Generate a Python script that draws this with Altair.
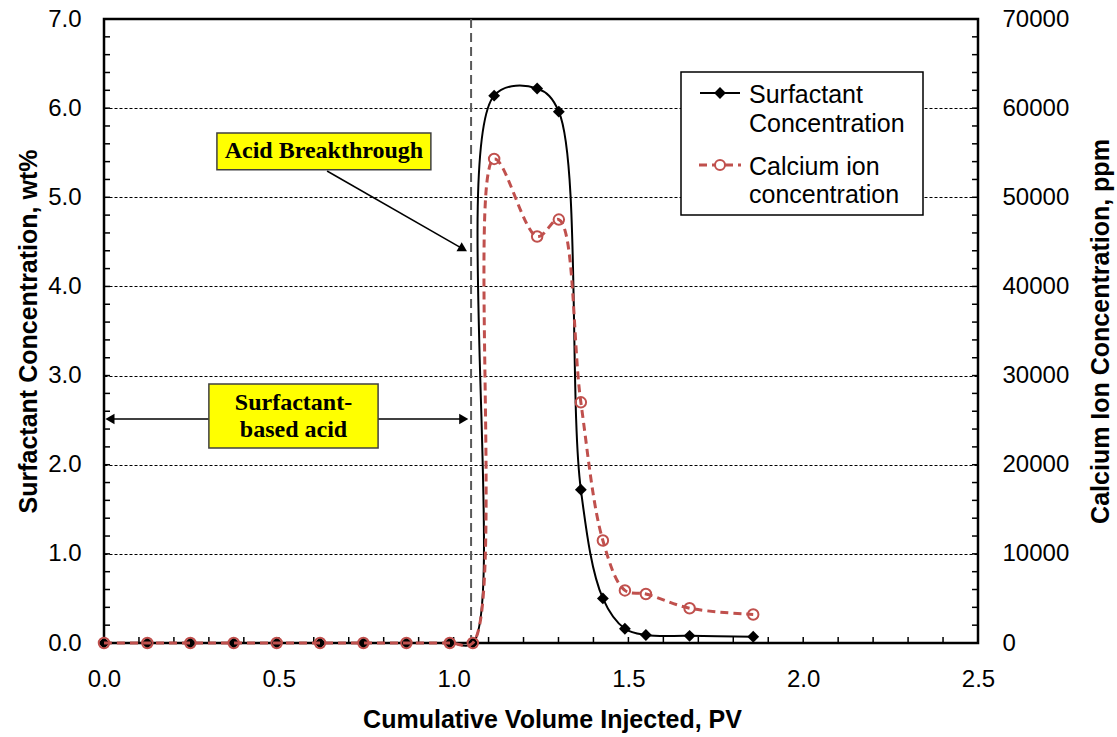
import altair as alt
import pandas as pd

# ---------------- data ----------------
pv = [0.0, 0.124, 0.247, 0.371, 0.494, 0.618, 0.742, 0.865, 0.989, 1.055,
      1.116, 1.239, 1.301, 1.364, 1.427, 1.490, 1.550, 1.675, 1.857]
surfactant_wt = [0.0, 0.0, 0.0, 0.0, 0.0, 0.0, 0.0, 0.0, 0.0, 0.0,
                 6.14, 6.22, 5.96, 1.72, 0.50, 0.16, 0.09, 0.08, 0.07]
calcium_ppm = [0, 0, 0, 0, 0, 0, 0, 0, 0, 0,
               54300, 45600, 47500, 27000, 11500, 5900, 5500, 3900, 3200]

x_ticks = [0.0, 0.5, 1.0, 1.5, 2.0, 2.5]
y_left_ticks = [0.0, 1.0, 2.0, 3.0, 4.0, 5.0, 6.0, 7.0]
y_right_ticks = [0, 10000, 20000, 30000, 40000, 50000, 60000, 70000]
x_minor = [round(i * 0.1, 2) for i in range(26)]
y_minor = [round(i * 0.2, 2) for i in range(36)]

breakthrough_pv = [1.05]
legend_labels = ["Surfactant", "Concentration", "Calcium ion", "concentration"]

W, H = 874, 624
RED = "#C0504D"
SANS = "Liberation Sans"
SERIF = "Liberation Serif"

df = pd.DataFrame({"pv": pv, "surf": surfactant_wt, "ca": calcium_ppm})

xs = alt.Scale(domain=[0, 2.5], nice=False, zero=False)
ysl = alt.Scale(domain=[0, 7], nice=False)
ysr = alt.Scale(domain=[0, 70000], nice=False)

x_axis = alt.Axis(values=x_ticks, format=".1f", ticks=False, domain=False, grid=False,
                  labelFlush=False, labelOverlap=False,
                  labelFontSize=24, labelFont=SANS, labelColor="black", labelPadding=24,
                  title="Cumulative Volume Injected, PV", titleFont=SANS, titleFontSize=25,
                  titleFontWeight="bold", titleColor="black", titleX=448, titleY=76,
                  titleBaseline="middle")
yl_axis = alt.Axis(values=y_left_ticks, format=".1f", ticks=False, domain=False, grid=True,
                   labelFlush=False, labelOverlap=False,
                   gridDash=[3, 2], gridColor="black", gridWidth=1, gridOpacity=1,
                   labelFontSize=24, labelFont=SANS, labelColor="black", labelPadding=23,
                   title="Surfactant Concentration, wt%", titleFont=SANS, titleFontSize=25,
                   titleFontWeight="bold", titleColor="black", titleAngle=270,
                   titleX=-76, titleY=H / 2, titleBaseline="middle", titleAlign="center")
yr_axis = alt.Axis(values=y_right_ticks, format="d", ticks=False, domain=False, grid=False,
                   labelFlush=False, labelOverlap=False,
                   orient="right", labelFontSize=24, labelFont=SANS, labelColor="black",
                   labelPadding=24,
                   title="Calcium Ion Concentration, ppm", titleFont=SANS, titleFontSize=25,
                   titleFontWeight="bold", titleColor="black", titleAngle=270,
                   titleX=122, titleY=H / 2, titleBaseline="middle", titleAlign="center")

base = alt.Chart(df)

# surfactant line + points (left axis)
surf_line = base.mark_line(color="black", strokeWidth=2, interpolate="catmull-rom").encode(
    x=alt.X("pv:Q", scale=xs, axis=x_axis),
    y=alt.Y("surf:Q", scale=ysl, axis=yl_axis),
)
surf_pts = base.mark_point(shape="diamond", filled=True, color="black", size=140, opacity=1).encode(
    x=alt.X("pv:Q", scale=xs), y=alt.Y("surf:Q", scale=ysl)
)

# inward ticks
tick_x = alt.Chart(pd.DataFrame({"v": x_minor})).mark_rule(color="black", strokeWidth=1.5).encode(
    x=alt.X("v:Q", scale=xs), y=alt.value(H - 6), y2=alt.value(H)
)
tick_yl = alt.Chart(pd.DataFrame({"v": y_minor})).mark_rule(color="black", strokeWidth=1.5).encode(
    y=alt.Y("v:Q", scale=ysl), x=alt.value(0), x2=alt.value(6)
)
tick_yr = alt.Chart(pd.DataFrame({"v": y_minor})).mark_rule(color="black", strokeWidth=1.5).encode(
    y=alt.Y("v:Q", scale=ysl), x=alt.value(W - 6), x2=alt.value(W)
)

# acid breakthrough vertical line
vline = alt.Chart(pd.DataFrame({"x": breakthrough_pv})).mark_rule(
    color="#595959", strokeWidth=2, strokeDash=[9, 5]).encode(x=alt.X("x:Q", scale=xs))

# annotation: Acid Breakthrough
ab_box = alt.Chart(pd.DataFrame({"x": [0.323], "x2": [0.935], "y": [5.72], "y2": [5.31]})).mark_rect(
    fill="#FFFF00", stroke="#404040", strokeWidth=1.5).encode(
    x=alt.X("x:Q", scale=xs), x2="x2:Q", y=alt.Y("y:Q", scale=ysl), y2="y2:Q")
ab_text = alt.Chart(pd.DataFrame({"x": [0.629], "y": [5.514], "t": ["Acid Breakthrough"]})).mark_text(
    font=SERIF, fontSize=24, fontWeight="bold", color="black", baseline="middle", align="center").encode(
    x=alt.X("x:Q", scale=xs), y=alt.Y("y:Q", scale=ysl), text="t:N")
ab_arrow = alt.Chart(pd.DataFrame({"x": [0.638], "y": [5.295], "x2": [1.029], "y2": [4.416]})).mark_rule(
    color="black", strokeWidth=1.5).encode(
    x=alt.X("x:Q", scale=xs), y=alt.Y("y:Q", scale=ysl), x2="x2:Q", y2="y2:Q")
ab_head = alt.Chart(pd.DataFrame({"x": [1.027], "y": [4.42]})).mark_point(
    shape="triangle-right", filled=True, color="black", size=110, opacity=1, angle=29.6).encode(
    x=alt.X("x:Q", scale=xs), y=alt.Y("y:Q", scale=ysl))

# annotation: Surfactant-based acid
sa_line = alt.Chart(pd.DataFrame({"x": [0.015], "x2": [1.03], "y": [2.513]})).mark_rule(
    color="black", strokeWidth=1.5).encode(
    x=alt.X("x:Q", scale=xs), x2="x2:Q", y=alt.Y("y:Q", scale=ysl))
sa_heads = alt.Chart(pd.DataFrame({"x": [0.017, 1.029], "y": [2.513, 2.513],
                                   "s": ["triangle-left", "triangle-right"]})).mark_point(
    filled=True, color="black", size=110, opacity=1).encode(
    x=alt.X("x:Q", scale=xs), y=alt.Y("y:Q", scale=ysl),
    shape=alt.Shape("s:N", scale=None))
sa_box = alt.Chart(pd.DataFrame({"x": [0.300], "x2": [0.784], "y": [2.906], "y2": [2.188]})).mark_rect(
    fill="#FFFF00", stroke="#404040", strokeWidth=1.5).encode(
    x=alt.X("x:Q", scale=xs), x2="x2:Q", y=alt.Y("y:Q", scale=ysl), y2="y2:Q")
sa_text = alt.Chart(pd.DataFrame({"x": [0.542, 0.542], "y": [2.692, 2.390],
                                  "t": ["Surfactant-", "based acid"]})).mark_text(
    font=SERIF, fontSize=24, fontWeight="bold", color="black", baseline="middle", align="center").encode(
    x=alt.X("x:Q", scale=xs), y=alt.Y("y:Q", scale=ysl), text="t:N")

# custom legend
leg = alt.Chart(pd.DataFrame({"a": [0]}))
leg_box = leg.mark_rect(fill="white", stroke="black", strokeWidth=1.5).encode(
    x=alt.value(577), x2=alt.value(819), y=alt.value(53), y2=alt.value(196))
leg_l1 = leg.mark_rule(color="black", strokeWidth=2).encode(
    x=alt.value(596), x2=alt.value(636), y=alt.value(74))
leg_p1 = leg.mark_point(shape="diamond", filled=True, color="black", size=140, opacity=1).encode(
    x=alt.value(616), y=alt.value(74))
leg_l2 = leg.mark_rule(color=RED, strokeWidth=3, strokeDash=[8, 5]).encode(
    x=alt.value(595), x2=alt.value(637), y=alt.value(146))
leg_p2 = leg.mark_point(shape="circle", filled=True, fill="white", stroke=RED, strokeWidth=2,
                        size=100, opacity=1).encode(x=alt.value(616), y=alt.value(146))
leg_texts = []
for lbl, yy in zip(legend_labels, [84, 113, 156, 184]):
    leg_texts.append(alt.Chart(pd.DataFrame({"t": [lbl]})).mark_text(
        font=SANS, fontSize=25, color="black", align="left", baseline="alphabetic").encode(
        x=alt.value(645), y=alt.value(yy), text="t:N"))

left = alt.layer(surf_line, tick_x, tick_yl, tick_yr, vline,
                 sa_line, sa_box, sa_text, sa_heads, ab_arrow, ab_head, ab_box, ab_text,
                 surf_pts, leg_box, leg_l1, leg_p1, leg_l2, leg_p2, *leg_texts)

ca_line = base.mark_line(color=RED, strokeWidth=3, strokeDash=[8, 5], interpolate="catmull-rom").encode(
    x=alt.X("pv:Q", scale=xs),
    y=alt.Y("ca:Q", scale=ysr, axis=yr_axis),
)
ca_pts = base.mark_point(shape="circle", filled=False, stroke=RED, strokeWidth=2,
                         size=110, opacity=1).encode(
    x=alt.X("pv:Q", scale=xs), y=alt.Y("ca:Q", scale=ysr))
right = alt.layer(ca_line, ca_pts)

chart = alt.layer(left, right).resolve_scale(y="independent").properties(
    width=W, height=H,
    padding={"left": 104, "top": 19, "right": 139, "bottom": 94},
    autosize=alt.AutoSizeParams(type="none"),
    background="white",
).configure_view(stroke="black", strokeWidth=2.5)

chart.save("out.html", embed_options={"renderer": "svg", "actions": False})
